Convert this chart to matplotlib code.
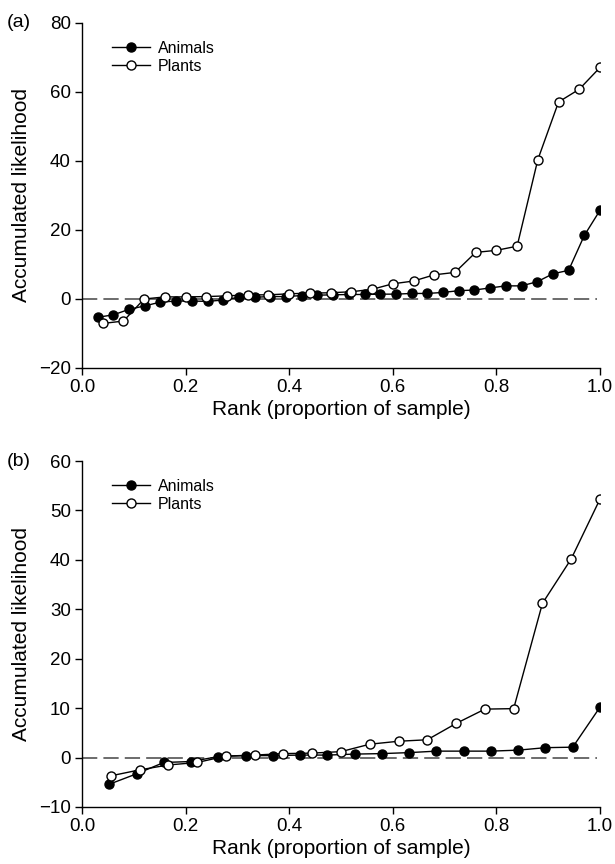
import numpy as np
import matplotlib
matplotlib.use('Agg')
import matplotlib.pyplot as plt

plt.rcParams['font.family'] = ['Liberation Sans', 'DejaVu Sans']

# Panel (a)
animals_a = [-5.3, -4.6, -3.0, -2.0, -0.9, -0.6, -0.6, -0.7, -0.3, 0.5, 0.5,
             0.7, 0.7, 1.0, 1.1, 1.2, 1.3, 1.3, 1.4, 1.4, 1.6, 1.6, 1.9, 2.4,
             2.6, 3.2, 3.8, 3.8, 5.0, 7.3, 8.3, 18.4, 25.7]
plants_a = [-7.1, -6.4, 0.0, 0.6, 0.6, 0.7, 0.9, 1.2, 1.2, 1.5, 1.7, 1.8, 2.1,
            2.8, 4.4, 5.2, 7.0, 7.7, 13.5, 14.1, 15.3, 40.4, 57.1, 60.8, 67.1]

# Panel (b)
animals_b = [-5.4, -3.3, -1.0, -0.8, 0.2, 0.4, 0.4, 0.5, 0.5, 0.7, 0.8, 1.0,
             1.3, 1.3, 1.3, 1.5, 2.0, 2.1, 10.2]
plants_b = [-3.7, -2.5, -1.5, -1.0, 0.3, 0.5, 0.8, 0.9, 1.2, 2.7, 3.3, 3.6,
            6.9, 9.8, 9.9, 31.2, 40.2, 52.3]

x_ticks = [0.0, 0.2, 0.4, 0.6, 0.8, 1.0]
x_labels = ['0.0', '0.2', '0.4', '0.6', '0.8', '1.0']


def rank(vals):
    n = len(vals)
    return np.arange(1, n + 1) / n


fig = plt.figure(figsize=(6.15, 8.64), dpi=100)
ax1 = fig.add_axes([0.1333, 0.5741, 0.8423, 0.3993])
ax2 = fig.add_axes([0.1333, 0.0660, 0.8423, 0.4004])

panels = [
    (ax1, animals_a, plants_a, (-20, 80), [-20, 0, 20, 40, 60, 80], '(a)'),
    (ax2, animals_b, plants_b, (-10, 60), [-10, 0, 10, 20, 30, 40, 50, 60], '(b)'),
]

for ax, an, pl, ylim, yticks, tag in panels:
    ax.plot([0, 0.995], [0, 0], color='#444444', lw=1.1, dashes=(10, 4), zorder=1)
    ax.plot(rank(an), an, '-o', color='black', mfc='black', mec='black',
            ms=6.5, lw=1.0, label='Animals', zorder=3)
    ax.plot(rank(pl), pl, '-o', color='black', mfc='white', mec='black',
            ms=6.5, mew=1.0, lw=1.0, label='Plants', zorder=4)
    ax.set_xlim(0, 1.0)
    ax.set_ylim(*ylim)
    ax.set_yticks(yticks)
    ax.set_yticklabels(['\u2212' + str(-t) if t < 0 else str(t) for t in yticks])
    ax.set_xticks(x_ticks)
    ax.set_xticklabels(x_labels)
    for s in ['top', 'right']:
        ax.spines[s].set_visible(False)
    for s in ['left', 'bottom']:
        ax.spines[s].set_linewidth(1.0)
    ax.tick_params(direction='out', length=5, width=1.0, labelsize=13.5, pad=3)
    ax.set_xlabel('Rank (proportion of sample)', fontsize=15, labelpad=3)
    ax.set_ylabel('Accumulated likelihood', fontsize=15, labelpad=6)
    ax.legend(loc='upper left', frameon=False, fontsize=11.5, handlelength=2.4,
              handletextpad=0.5, labelspacing=0.2, bbox_to_anchor=(0.03, 0.99))
    ax.text(-0.145, 1.0, tag, transform=ax.transAxes, fontsize=14,
            ha='left', va='center')

fig.savefig('out.png', dpi=100)
